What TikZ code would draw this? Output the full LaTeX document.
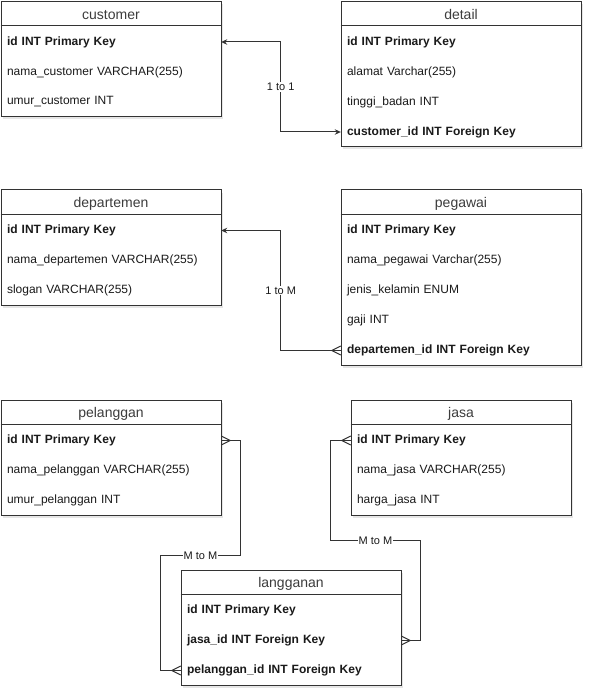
\documentclass[tikz,border=0pt]{standalone}
\usepackage{fontspec}
\setmainfont{Liberation Sans}
\usetikzlibrary{calc,arrows.meta,shadows}
\definecolor{linec}{HTML}{333333}
\definecolor{txtc}{HTML}{1a1a1a}
\tikzset{
  x=1pt, y=-1pt,
  tbl/.style={draw=linec, fill=white, line width=1pt, inner sep=0pt, anchor=north west,
    drop shadow={shadow xshift=2pt, shadow yshift=-3pt, opacity=0.2}},
  titlef/.style={font=\fontsize{14}{16}\selectfont, text=txtc!85, inner sep=0pt},
  rowf/.style={font=\fontsize{12}{14}\selectfont, text=txtc, minimum height=30pt, inner xsep=6pt, inner ysep=0pt, align=left},
  keyf/.style={rowf, font=\fontsize{12}{14}\selectfont\bfseries},
  hline/.style={draw=linec, line width=1pt},
  conn/.style={draw=linec, line width=1pt},
  lbl/.style={font=\fontsize{11}{13}\selectfont, text=txtc, fill=white, inner sep=1pt},
  erarrow/.tip={Stealth[length=6pt,width=5.5pt]}
}
\newcommand\crowfoot[2]{%
  \draw[conn] ($#1+(#2*9,0)$) -- ($#1+(0,-4.5)$) ($#1+(#2*9,0)$) -- ($#1+(0,4.5)$);}
\newcommand\tablebox[6]{% name, x, y, width, height, title
  \node[tbl, minimum width=#4pt, minimum height=#5pt] (#1) at (#2,#3) {};
  \draw[hline] ($(#1.north west)+(0,25)$) -- ($(#1.north east)+(0,25)$);
  \node[titlef] (#1-t) at ($(#1.north)+(0,14)$) {#6};}
\newcommand\tablerow[5]{% table, index, width, style, text
  \node[#4, text width=#3pt-12pt] (#1-#2) at ($(#1.north)+(0,11+30*#2)$) {#5};}
\begin{document}
\begin{tikzpicture}
\useasboundingbox (0,0) rectangle (592,700);

% customer
\tablebox{customer}{0.5}{1}{220}{115}{customer}
\tablerow{customer}{1}{220}{keyf}{id INT Primary Key}
\tablerow{customer}{2}{220}{rowf}{nama\_customer VARCHAR(255)}
\tablerow{customer}{3}{220}{rowf}{umur\_customer INT}

% detail
\tablebox{detail}{340.5}{1}{240}{145}{detail}
\tablerow{detail}{1}{240}{keyf}{id INT Primary Key}
\tablerow{detail}{2}{240}{rowf}{alamat Varchar(255)}
\tablerow{detail}{3}{240}{rowf}{tinggi\_badan INT}
\tablerow{detail}{4}{240}{keyf}{customer\_id INT Foreign Key}

% departemen
\tablebox{departemen}{0.5}{189.5}{220}{115}{departemen}
\tablerow{departemen}{1}{220}{keyf}{id INT Primary Key}
\tablerow{departemen}{2}{220}{rowf}{nama\_departemen VARCHAR(255)}
\tablerow{departemen}{3}{220}{rowf}{slogan VARCHAR(255)}

% pegawai
\tablebox{pegawai}{340.5}{189.5}{240}{175}{pegawai}
\tablerow{pegawai}{1}{240}{keyf}{id INT Primary Key}
\tablerow{pegawai}{2}{240}{rowf}{nama\_pegawai Varchar(255)}
\tablerow{pegawai}{3}{240}{rowf}{jenis\_kelamin ENUM}
\tablerow{pegawai}{4}{240}{rowf}{gaji INT}
\tablerow{pegawai}{5}{240}{keyf}{departemen\_id INT Foreign Key}

% pelanggan
\tablebox{pelanggan}{0.5}{399.5}{220}{115}{pelanggan}
\tablerow{pelanggan}{1}{220}{keyf}{id INT Primary Key}
\tablerow{pelanggan}{2}{220}{rowf}{nama\_pelanggan VARCHAR(255)}
\tablerow{pelanggan}{3}{220}{rowf}{umur\_pelanggan INT}

% jasa
\tablebox{jasa}{350.5}{399.5}{220}{115}{jasa}
\tablerow{jasa}{1}{220}{keyf}{id INT Primary Key}
\tablerow{jasa}{2}{220}{rowf}{nama\_jasa VARCHAR(255)}
\tablerow{jasa}{3}{220}{rowf}{harga\_jasa INT}

% langganan
\tablebox{langganan}{180.5}{569.5}{220}{115}{langganan}
\tablerow{langganan}{1}{220}{keyf}{id INT Primary Key}
\tablerow{langganan}{2}{220}{keyf}{jasa\_id INT Foreign Key}
\tablerow{langganan}{3}{220}{keyf}{pelanggan\_id INT Foreign Key}

% connectors
\draw[conn, {erarrow}-{erarrow}] (customer-1.east) -- ++(59.5,0) |- node[lbl, pos=0.25] {1 to 1} (detail-4.west);

\draw[conn, {erarrow}-] (departemen-1.east) -- ++(59.5,0) |- node[lbl, pos=0.25] {1 to M} (pegawai-5.west);
\crowfoot{(pegawai-5.west)}{-1}

\coordinate (k1) at (240.5,555.5);
\coordinate (k2) at (160.5,555.5);
\draw[conn] (pelanggan-1.east) -| (k1) -- node[lbl] {M to M} (k2) |- (langganan-3.west);
\crowfoot{(pelanggan-1.east)}{1}
\crowfoot{(langganan-3.west)}{-1}

\coordinate (k3) at (330.5,540.5);
\coordinate (k4) at (420.5,540.5);
\draw[conn] (jasa-1.west) -| (k3) -- node[lbl] {M to M} (k4) |- (langganan-2.east);
\crowfoot{(jasa-1.west)}{-1}
\crowfoot{(langganan-2.east)}{1}
\end{tikzpicture}
\end{document}
